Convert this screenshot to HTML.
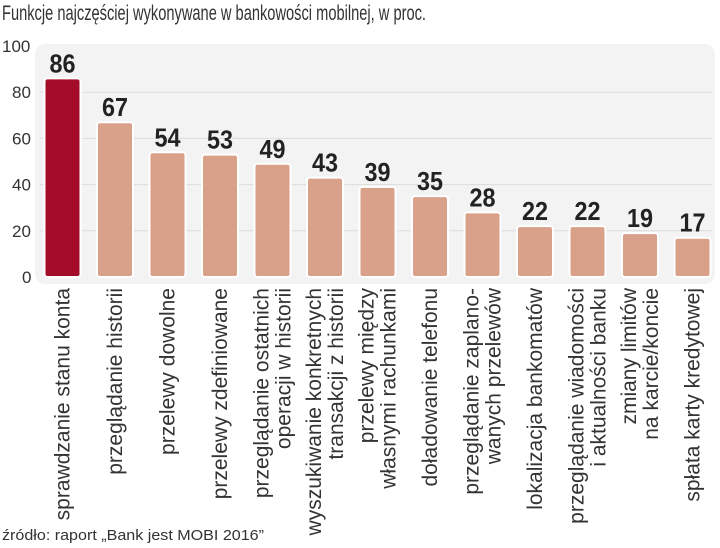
<!DOCTYPE html>
<html><head><meta charset="utf-8"><style>
body{margin:0;background:#fff;}
svg{display:block;font-family:"Liberation Sans Narrow","Liberation Sans",sans-serif;}
</style></head><body>
<svg id="chart" width="720" height="548" viewBox="0 0 720 548">
<text x="2" y="20" font-size="21" fill="#333" textLength="424" lengthAdjust="spacingAndGlyphs">Funkcje najczęściej wykonywane w bankowości mobilnej, w proc.</text>
<rect x="35" y="44" width="680" height="240" rx="10" fill="#f3f3f3"/>
<g id="grid"></g><g id="bars"></g><g id="labels"></g>
<text x="2" y="540" font-size="15" fill="#333" textLength="262" lengthAdjust="spacingAndGlyphs">źródło:  raport „Bank jest MOBI 2016”</text>
</svg>
<script>
const categories=[["sprawdzanie stanu konta"],["przeglądanie historii"],["przelewy dowolne"],["przelewy zdefiniowane"],["przeglądanie ostatnich","operacji w historii"],["wyszukiwanie konkretnych","transakcji z historii"],["przelewy między","własnymi rachunkami"],["doładowanie telefonu"],["przeglądanie zaplano-","wanych przelewów"],["lokalizacja bankomatów"],["przeglądanie wiadomości","i aktualności banku"],["zmiany limitów","na karcie/koncie"],["spłata karty kredytowej"]];
const values=[86,67,54,53,49,43,39,35,28,22,22,19,17];
const yTicks=[0,20,40,60,80,100];
const NS="http://www.w3.org/2000/svg";
const y0=277,y100=46;
const y=v=>y0-(v/100)*(y0-y100);
const x=i=>62.5+i*52.5;
const bw=36;
function mk(t,a,p){const e=document.createElementNS(NS,t);for(const k in a)e.setAttribute(k,a[k]);p.appendChild(e);return e;}
const grid=document.getElementById('grid');
yTicks.forEach(t=>{
 if(t>0&&t<100){const l=mk('line',{x1:40,x2:712,y1:y(t),y2:y(t),stroke:'#dcdcdc','stroke-width':1},grid);
 
 }
 const tx=mk('text',{x:t==100?2:(t==0?22:12),y:y(t)+6,'font-size':17,fill:'#333'},grid);
 tx.textContent=t;
 
 
});
const bars=document.getElementById('bars'),labels=document.getElementById('labels');
values.forEach((v,i)=>{
 const cx=x(i);
 const r=mk('rect',{x:cx-bw/2,y:y(v),width:bw,height:y0-y(v),rx:3,fill:i==0?'#a30d2a':'#d9a08a',stroke:'#fff','stroke-width':2},bars);
 
 
 const vt=mk('text',{x:cx-13,y:y(v)-6,'font-size':26,'font-weight':'bold',fill:'#222',textLength:26,lengthAdjust:'spacingAndGlyphs'},bars);
 vt.textContent=v;
 
 
 const lines=categories[i];
 lines.forEach((s,j)=>{
  const off=lines.length==1?0:(j==0?-11:11);
  const lx=cx+off+7;
  const t=mk('text',{x:lx,y:288,'font-size':21,fill:'#333','text-anchor':'end',transform:`rotate(-90 ${lx} 288)`},labels);
  t.textContent=s;
  
  
 });
});
</script>
</body></html>
